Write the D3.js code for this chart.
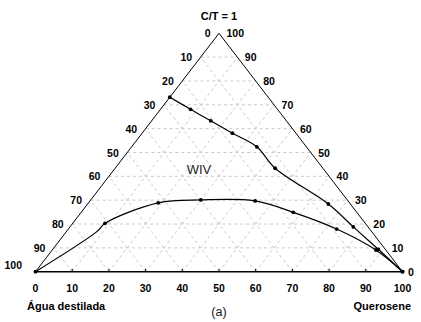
<!DOCTYPE html>
<html>
<head>
<meta charset="utf-8">
<script src="https://cdn.jsdelivr.net/npm/d3@7"></script>
<style>
  html, body { margin: 0; padding: 0; background: #fff; }
  svg { display: block; }
</style>
</head>
<body>
<svg id="chart" width="421" height="322"></svg>
<script>
// Ternary diagram: Querosene (bottom axis), C/T = 1 (right axis), Água destilada (left axis)
const tickValues = [0, 10, 20, 30, 40, 50, 60, 70, 80, 90, 100];
const gridLevels = [10, 20, 30, 40, 50, 60, 70, 80, 90];

// Upper binodal curve: [Querosene %, C/T %]
const upperCurve = [
  [0, 73.2], [8.2, 68.1], [16.1, 63.3], [24.6, 58.1], [34.1, 52.4],
  [43.6, 43.4], [65.6, 28.4], [77.2, 18.8], [88.7, 9.4], [100, 0]
];
const upperMarked = [true, true, true, true, true, true, true, true, true, true];

// Lower binodal curve: [Querosene %, C/T %]
const lowerCurve = [
  [0, 0], [8.3, 16.8], [8.8, 20.3], [19.0, 28.9], [30.0, 30.1], [45.0, 29.7],
  [57.8, 24.9], [73.1, 17.9], [88.2, 9.1], [100, 0]
];
const lowerMarked = [true, false, true, true, true, true, true, true, true, true];

const regionLabel = "WIV";
const regionPos = [23.2, 42.7]; // [Querosene %, C/T %]

const svg = d3.select("#chart");

// Geometry of the triangle
const baseY = 271.7, apexY = 33.3, leftX = 35.5, rightX = 402.5;
const yScale = d3.scaleLinear().domain([0, 100]).range([baseY, apexY]);
const xScale = d3.scaleLinear().domain([0, 100]).range([leftX, rightX]);
// q = Querosene, c = C/T
const px = (q, c) => [xScale(q + c / 2), yScale(c)];

// Dashed grid
const grid = svg.append("g")
  .attr("stroke", "#cacaca")
  .attr("stroke-width", 1)
  .attr("stroke-dasharray", "3,3")
  .attr("fill", "none");
gridLevels.forEach(k => {
  const segs = [
    [px(0, k), px(100 - k, k)],          // constant C/T
    [px(k, 0), px(k, 100 - k)],          // constant Querosene
    [px(100 - k, 0), px(0, 100 - k)]     // constant Água
  ];
  segs.forEach(s => grid.append("line")
    .attr("x1", s[0][0]).attr("y1", s[0][1])
    .attr("x2", s[1][0]).attr("y2", s[1][1]));
});

// Triangle edges
const A = px(0, 100), L = px(0, 0), R = px(100, 0);
svg.append("line").attr("x1", L[0]).attr("y1", L[1]).attr("x2", A[0]).attr("y2", A[1])
  .attr("stroke", "#000").attr("stroke-width", 1);
svg.append("line").attr("x1", R[0]).attr("y1", R[1]).attr("x2", A[0]).attr("y2", A[1])
  .attr("stroke", "#000").attr("stroke-width", 1);
svg.append("line").attr("x1", L[0]).attr("y1", L[1]).attr("x2", R[0]).attr("y2", R[1])
  .attr("stroke", "#000").attr("stroke-width", 1.4);

// Bottom ticks
gridLevels.forEach(k => {
  const p = px(k, 0);
  svg.append("line").attr("x1", p[0]).attr("y1", p[1]).attr("x2", p[0]).attr("y2", p[1] - 3)
    .attr("stroke", "#000").attr("stroke-width", 1);
});

// Tick labels
const tickFont = "'Liberation Sans', Arial, sans-serif";
const labels = svg.append("g")
  .attr("font-family", tickFont)
  .attr("font-weight", "bold")
  .attr("font-size", 10.5)
  .attr("fill", "#000");

// Left edge: Água destilada (0 at apex, 100 at lower-left)
tickValues.forEach(v => {
  const p = px(0, 100 - v);
  const lift = v === 100 ? -7 : 0;
  const shift = v === 100 ? -5 : 0;
  labels.append("text")
    .attr("x", p[0] - 8.5 + shift).attr("y", p[1] + 4 + lift)
    .attr("text-anchor", "end")
    .text(v);
});
// Right edge: C/T (100 at apex, 0 at lower-right)
tickValues.forEach(v => {
  const p = px(100 - v, v);
  labels.append("text")
    .attr("x", p[0] + (v === 0 ? 5.5 : 7.5)).attr("y", p[1] + 4)
    .attr("text-anchor", "start")
    .text(v);
});
// Bottom edge: Querosene
tickValues.forEach(v => {
  const p = px(v, 0);
  labels.append("text")
    .attr("x", p[0]).attr("y", 292)
    .attr("text-anchor", "middle")
    .text(v);
});

// Axis titles
const titles = svg.append("g")
  .attr("font-family", tickFont)
  .attr("font-weight", "bold")
  .attr("font-size", 11)
  .attr("fill", "#000");
titles.append("text").attr("x", A[0]).attr("y", 20).attr("text-anchor", "middle").text("C/T = 1");
titles.append("text").attr("x", 27).attr("y", 310).attr("text-anchor", "start").text("Água destilada");
titles.append("text").attr("x", 411).attr("y", 310).attr("text-anchor", "end").text("Querosene");

svg.append("text")
  .attr("x", 219).attr("y", 316)
  .attr("text-anchor", "middle")
  .attr("font-family", tickFont)
  .attr("font-size", 12.5)
  .attr("fill", "#111")
  .text("(a)");

// Curves
const line = d3.line().curve(d3.curveCatmullRom.alpha(0.5));
[[upperCurve, upperMarked], [lowerCurve, lowerMarked]].forEach(([pts, marks]) => {
  const coords = pts.map(d => px(d[0], d[1]));
  svg.append("path")
    .attr("d", line(coords))
    .attr("fill", "none")
    .attr("stroke", "#000")
    .attr("stroke-width", 1.2);
  svg.append("g").selectAll("circle")
    .data(coords.filter((c, i) => marks[i]))
    .join("circle")
    .attr("cx", d => d[0]).attr("cy", d => d[1])
    .attr("r", 1.9)
    .attr("fill", "#000");
});

// Region label
const rp = px(regionPos[0], regionPos[1]);
svg.append("text")
  .attr("x", rp[0]).attr("y", rp[1])
  .attr("dy", "0.35em")
  .attr("text-anchor", "middle")
  .attr("font-family", tickFont)
  .attr("font-size", 13)
  .attr("fill", "#222")
  .text(regionLabel);
</script>
</body>
</html>
